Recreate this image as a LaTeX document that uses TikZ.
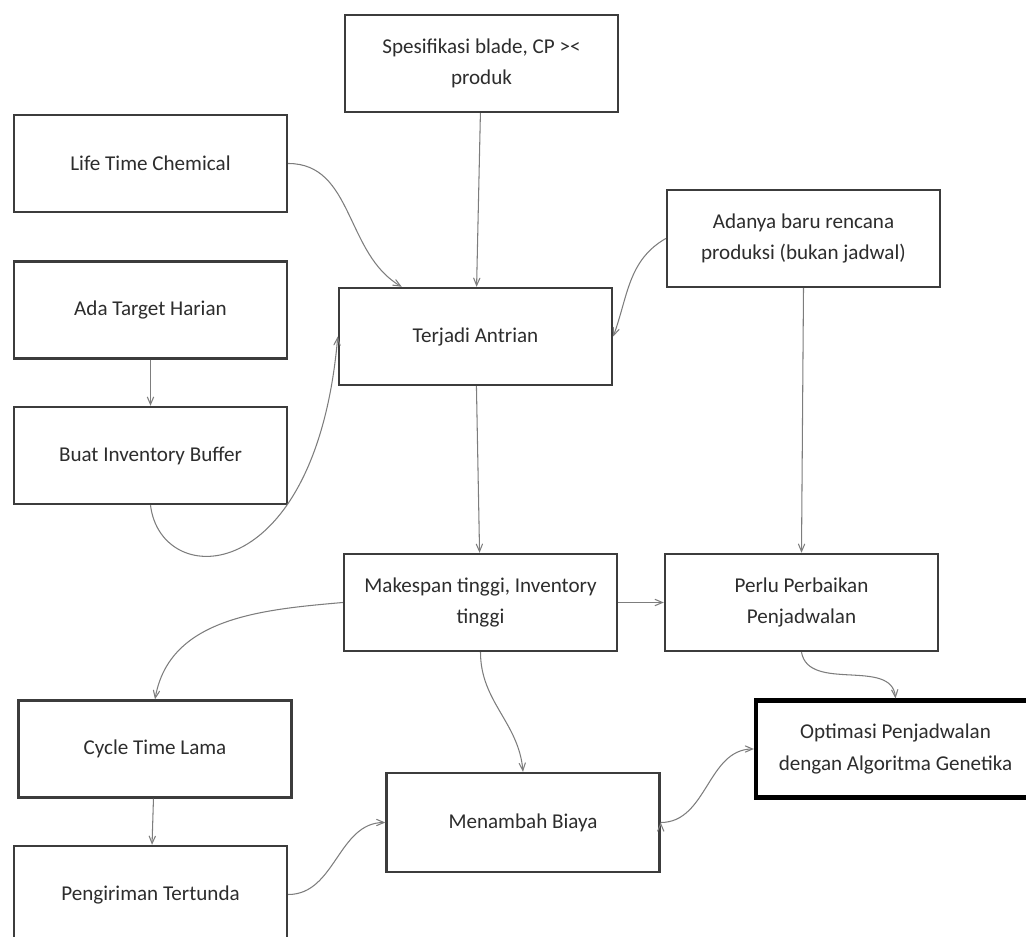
\documentclass[tikz,border=0pt]{standalone}
\usepackage{fontspec}
\setmainfont{Carlito}
\usetikzlibrary{arrows}
\definecolor{box_grey}{RGB}{60,60,60}
\definecolor{edge_grey}{RGB}{125,125,125}
\definecolor{text_grey}{RGB}{45,45,45}

\begin{document}
\begin{tikzpicture}[->,>=angle 45,semithick]
    \tikzstyle{box}=[draw=box_grey, line width=1.4pt, rectangle, minimum width=5.46cm, minimum height=1.94cm, align=center, text=text_grey, font=\fontsize{12}{18}\selectfont, fill=white]
    \tikzstyle{boxgoal}=[style=box, draw=black, line width=2.4pt, minimum width=5.58cm]
    \tikzstyle{link}=[draw=edge_grey, line width=0.6pt]

    \useasboundingbox (0,0) rectangle (20.52,-18.74);

    \node[box]      (spek)     at (9.63,-1.27)  {Spesifikasi blade, CP ><\\produk};
    \node[box]      (life)     at (3.01,-3.27)  {Life Time Chemical};
    \node[box]      (target)   at (3.01,-6.20)  {Ada Target Harian};
    \node[box]      (buffer)   at (3.01,-9.11)  {Buat Inventory Buffer};
    \node[box]      (antri)    at (9.51,-6.73)  {Terjadi Antrian};
    \node[box]      (rencana)  at (16.07,-4.77) {Adanya baru rencana\\produksi (bukan jadwal)};
    \node[box]      (makespan) at (9.61,-12.05) {Makespan tinggi, Inventory\\tinggi};
    \node[box]      (perlu)    at (16.03,-12.05) {Perlu Perbaikan\\Penjadwalan};
    \node[box]      (cycle)    at (3.10,-14.98) {Cycle Time Lama};
    \node[box]      (kirim)    at (3.01,-17.89) {Pengiriman Tertunda};
    \node[box, minimum height=1.98cm] (tambah) at (10.46,-16.45) {Menambah Biaya};
    \node[boxgoal]  (optimasi) at (17.91,-14.98) {Optimasi Penjadwalan\\dengan Algoritma Genetika};

    \path[link]
     (spek) edge (antri)
     (life.east) edge[out=0,in=150] (antri.146)
     (target) edge (buffer)
     (buffer.south) edge[out=-83,in=-95,out distance=1.73cm,in distance=5.08cm] (antri.west)
     (rencana.west) edge[out=210,in=70] (antri.east)
     (rencana.south) edge (perlu.north)
     (antri) edge (makespan)
     (makespan) edge (perlu)
     (makespan.west) edge[out=185,in=80] (cycle.north)
     (makespan.south) edge[out=-90,in=95] (tambah.north)
     (perlu.south) edge[out=-80,in=95] (optimasi.north)
     (cycle) edge (kirim)
     (kirim.east) edge[out=0,in=180] (tambah.west)
     (tambah.east) edge[out=0,in=180] (optimasi.west);
\end{tikzpicture}
\end{document}
